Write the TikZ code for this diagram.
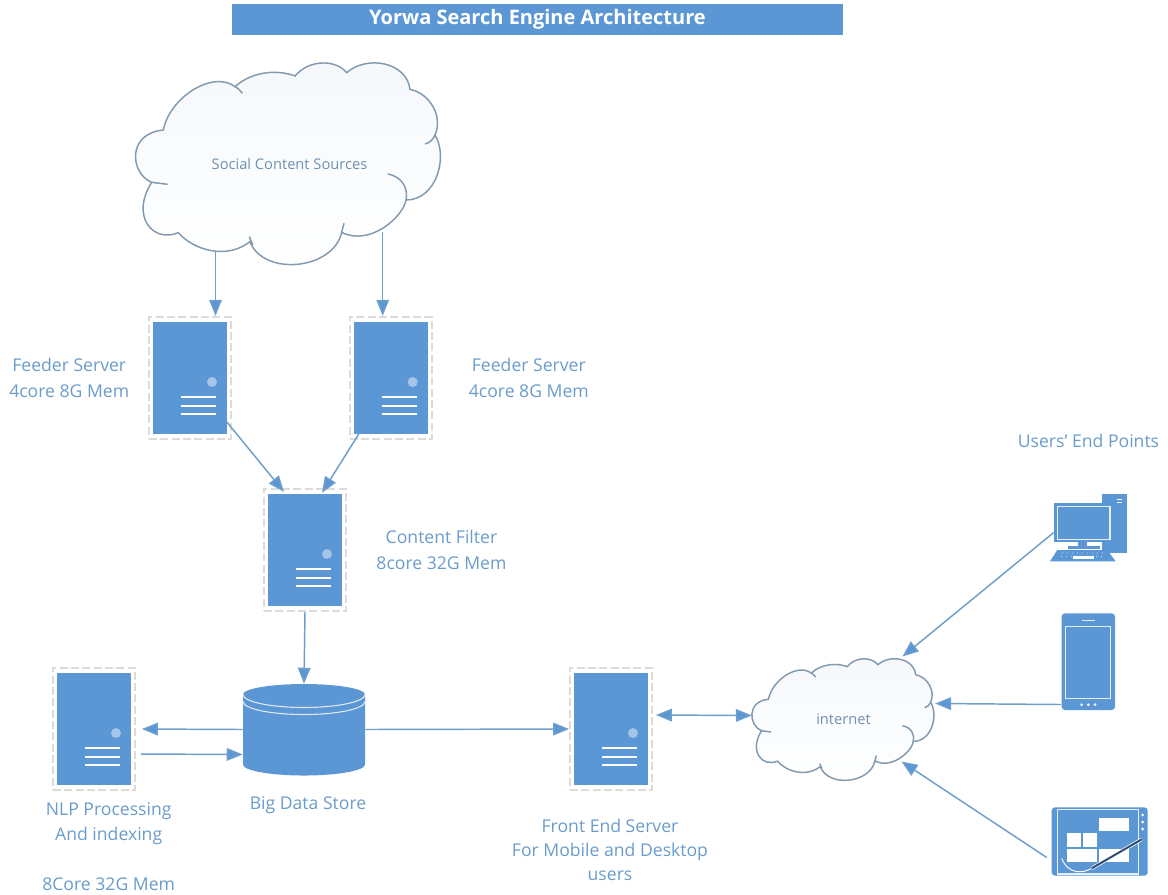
\documentclass[tikz,border=0pt]{standalone}
\usepackage{fontspec}
\setmainfont{Open Sans}
\usetikzlibrary{positioning,arrows.meta}

\definecolor{iconblue}{HTML}{5B97D5}
\definecolor{textblue}{HTML}{6A9CCB}
\definecolor{cloudtext}{HTML}{6F90B0}
\definecolor{flowblue}{HTML}{6E9FCB}
\definecolor{cloudline}{HTML}{8299AE}
\definecolor{cloudtint}{HTML}{F5F8FC}
\definecolor{framegrey}{HTML}{DEDAD8}
\definecolor{pendark}{HTML}{2F4D73}

\tikzset{
  cloudshape/.pic={
    \draw[cloudline,line width=1.1pt,top color=cloudtint,bottom color=white]
      (130,210) .. controls (150,110) and (280,30) .. (345,80)
      .. controls (400,30) and (480,30) .. (525,48)
      .. controls (570,-5) and (650,0) .. (680,38)
      .. controls (740,-15) and (860,5) .. (870,88)
      .. controls (930,100) and (970,170) .. (945,225)
      .. controls (985,290) and (950,420) .. (858,420)
      .. controls (850,470) and (750,560) .. (665,517)
      .. controls (640,630) and (430,650) .. (390,545)
      .. controls (320,600) and (220,570) .. (175,518)
      .. controls (100,550) and (30,470) .. (95,367)
      .. controls (30,340) and (20,220) .. (130,210) -- cycle;
    \draw[cloudline,line width=1.1pt]
      (345,80) .. controls (355,85) and (362,92) .. (367,100)
      (945,225) .. controls (940,238) and (930,248) .. (915,252)
      (803,342) .. controls (850,350) and (865,390) .. (858,420)
      (672,490) -- (665,517)
      (388,530) -- (398,555)
      (95,367) -- (143,373);
  }
}

\begin{document}
\begin{tikzpicture}[
      x=0.75pt,y=-0.75pt,
      server/.style={rectangle,draw=framegrey,line width=1.3pt,dash pattern=on 6pt off 2.5pt,inner sep=0pt,
                     minimum width=61.5pt,minimum height=92pt,
                     path picture={
                       \begin{scope}[shift={(path picture bounding box.center)},solid]
                         \fill[iconblue] (-37,-56) rectangle (37,56);
                         \fill[white,opacity=.45] (22,4) circle (5);
                         \foreach \yy in {19,28,36}
                           \draw[white,line width=1.7pt] (-9,\yy) -- (26,\yy);
                       \end{scope}}},
      datastore/.style={rectangle,inner sep=0pt,minimum width=91.5pt,minimum height=68.25pt,
                     path picture={
                       \begin{scope}[shift={(path picture bounding box.center)}]
                         \fill[iconblue] (-61,-35) -- (-61,35) arc[start angle=180,end angle=360,x radius=61,y radius=-11]
                           -- (61,-35) arc[start angle=0,end angle=180,x radius=61,y radius=-10.5] -- cycle;
                         \draw[white,opacity=.8,line width=.8pt] (-61,-35) arc[start angle=180,end angle=360,x radius=61,y radius=-13];
                         \draw[white,opacity=.8,line width=.8pt] (-61,-28) arc[start angle=180,end angle=360,x radius=61,y radius=-13];
                       \end{scope}}},
      iconbox/.style={rectangle,inner sep=0pt},
      cloudbox/.style={rectangle,inner sep=0pt,text=cloudtext,font=\fontsize{11}{13}\selectfont},
      caption/.style={inner sep=0pt,align=center,text=textblue,font=\fontsize{13.2}{19.3}\selectfont},
      single/.style={draw=flowblue,line width=1.1pt,-{Triangle[length=12pt,width=9.5pt,fill=iconblue]}},
      both/.style={draw=flowblue,line width=1.1pt,{Triangle[length=12pt,width=9.5pt,fill=iconblue]}-{Triangle[length=12pt,width=9.5pt,fill=iconblue]}},
    ]
  \useasboundingbox (0,0) rectangle (1168,894);

  % title
  \node[rectangle,fill=iconblue,text=white,inner sep=0pt,minimum width=458pt,minimum height=23.25pt,
        font=\fontsize{15}{18}\selectfont\bfseries] (title) at (537.5,19.5) {Yorwa Search Engine Architecture};

  % clouds
  \pic at (120,60) [scale=1/3] {cloudshape};
  \pic at (742.6,657) [xscale=0.199,yscale=0.201] {cloudshape};
  \node[cloudbox,minimum width=230pt,minimum height=153pt] (social) at (289.5,164) {Social Content Sources};
  \node[cloudbox,minimum width=137pt,minimum height=92pt] (internet) at (843.5,719.5) {internet};

  % servers
  \node[server] (feedA) at (190,378) {};
  \node[server,right=87.75pt of feedA] (feedB) {};
  \node[server] (filter) at (305,550) {};
  \node[server] (nlp) at (94,729) {};
  \node[server] (front) at (611,729) {};
  \node[datastore] (store) at (304,729.5) {};

  % captions
  \node[caption,left=14pt of feedA] (feedAtext) {Feeder Server\\4core 8G Mem};
  \node[caption,right=27pt of feedB] (feedBtext) {Feeder Server\\4core 8G Mem};
  \node[caption,right=22pt of filter] (filtertext) {Content Filter\\8core 32G Mem};
  \node[caption,below=8pt of nlp,xshift=11pt] (nlptext) {NLP Processing\\And indexing};
  \node[caption,below=24pt of nlptext] (nlpmem) {8Core 32G Mem};
  \node[caption,below=16pt of store,xshift=3pt] (storetext) {Big Data Store};
  \node[caption,below=21pt of front,xshift=-0.75pt,font=\fontsize{13.2}{18}\selectfont] (fronttext) {Front End Server\\For Mobile and Desktop\\users};

  % end points
  \node[iconbox,minimum width=57.75pt,minimum height=50.25pt] (desktop) at (1088.5,527.5) {};
  \node[iconbox,minimum width=40pt,minimum height=72.5pt] (phone) at (1088,661.5) {};
  \node[iconbox,minimum width=72pt,minimum height=51.25pt] (tablet) at (1100,841.5) {};
  \node[caption,above=34pt of desktop] (usertext) {Users’ End Points};

  \begin{scope}[shift={(1000,470)},scale=1/3]
    % desktop
    \fill[iconblue] (305,72) rectangle (380,248);
    \draw[white,line width=.6pt] (352,88) -- (366,88) (352,98) -- (366,98);
    \fill[white] (295,85) rectangle (305,222);
    \fill[iconblue] (162,98) rectangle (340,215);
    \draw[white,opacity=.85,line width=.8pt] (172,110) rectangle (330,208);
    \fill[iconblue] (235,215) rectangle (262,235);
    \fill[iconblue] (205,228) rectangle (300,238);
    \fill[iconblue] (172,240) -- (322,240) -- (347,274) -- (150,274) -- cycle;
    \foreach \xx in {190,205,...,310}
      \draw[white,line width=.5pt,dotted] (\xx-3,248) -- (\xx-6,262);
    \fill[white] (218,258) rectangle (282,266);
    % phone
    \fill[iconblue,rounded corners=2.5pt] (185,430) rectangle (345,720);
    \draw[white,opacity=.85,line width=.8pt] (197,470) rectangle (332,685);
    \draw[white,opacity=.85,line width=.8pt] (245,451) -- (285,451);
    \foreach \xx in {245,265,285}
      \fill[white] (\xx,704) circle (4.5);
    % tablet
    \fill[iconblue,rounded corners=2.5pt] (155,1012) rectangle (443,1217);
    \draw[white,opacity=.85,line width=.8pt] (172,1018) rectangle (415,1212);
    \foreach \yy in {1035,1056,1077}
      \fill[white] (428,\yy) circle (4.5);
    \fill[white] (298,1045) rectangle (386,1082);
    \fill[white] (202,1090) rectangle (242,1130);
    \fill[white] (250,1090) rectangle (290,1130);
    \fill[white] (202,1138) rectangle (290,1175);
    \fill[white] (298,1138) rectangle (386,1175);
    \draw[white,line width=.7pt] (185,1165) .. controls (205,1215) and (250,1210) .. (275,1195);
    \draw[white,line width=2.6pt] (275,1195) -- (425,1108);
    \draw[pendark,line width=1.5pt] (275,1195) -- (425,1108);
  \end{scope}

  % connectors
  \coordinate (socialA) at (215.5,252);
  \coordinate (socialB) at (382.7,232);
  \path (socialA) edge[single] (socialA |- feedA.north);
  \path (socialB) edge[single] (socialB |- feedB.north);
  \path ([shift={(-5,44)}]feedA.east) edge[single] ([shift={(-21,4)}]filter.north);
  \path ([shift={(-32,56)}]feedB.center) edge[single] ([shift={(17,5)}]filter.north);
  \path (filter.south) edge[single] (store.north);
  \path (store.west) edge[single] ([shift={(6,0)}]nlp.east);
  \path ([shift={(5,25)}]nlp.east) edge[single] ([shift={(0,25)}]store.west);
  \path (store.east) edge[single] (front.west);
  \path ([shift={(3,-14)}]front.east) edge[both] ([shift={(0,-4)}]internet.west);
  \path ([shift={(4,5)}]desktop.west) edge[single] ([shift={(59,-63)}]internet.center);
  \path ([shift={(0,43)}]phone.west) edge[single] ([shift={(0,-16)}]internet.east);
  \path ([shift={(-5,16)}]tablet.west) edge[single] ([shift={(58,42)}]internet.center);
\end{tikzpicture}
\end{document}
